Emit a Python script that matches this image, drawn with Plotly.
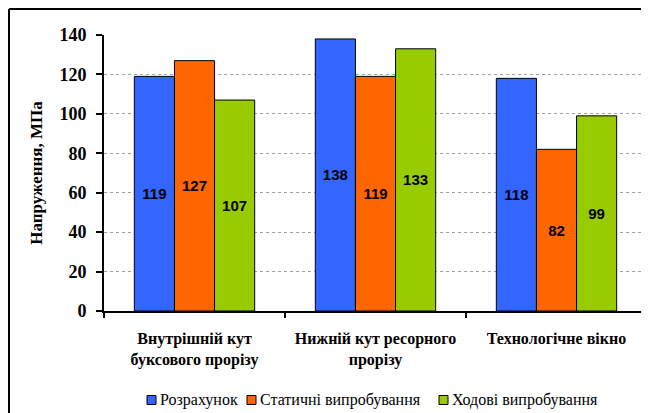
import plotly.graph_objects as go

categories = ["Внутрішній кут<br>буксового прорізу", "Нижній кут ресорного<br>прорізу", "Технологічне вікно"]
series_names = ["Розрахунок", "Статичні випробування", "Ходові випробування"]
calc = [119, 138, 118]
static = [127, 119, 82]
running = [107, 133, 99]
colors = ["#3366FF", "#FF6600", "#99CC00"]

SERIF = "Liberation Serif"
SANS = "Liberation Sans"

OFF = 8  # page body margin offset
W, H = 649 - OFF, 413 - OFF
L, T = 104 - OFF, 35 - OFF
R = W - (647 - OFF)
B = H - (311 - OFF)
pw = W - L - R
ph = H - T - B

def px_x(p):  # window pixel -> paper x
    return (p - OFF - L) / pw

def px_y(p):  # window pixel -> paper y
    return (H - B - (p - OFF)) / ph

fig = go.Figure()
for name, vals, c in zip(series_names, [calc, static, running], colors):
    fig.add_trace(go.Bar(
        x=categories, y=vals, name=name, showlegend=False,
        marker=dict(color=c, line=dict(color="black", width=1)),
        text=[str(v) for v in vals], textposition="inside", insidetextanchor="middle",
        textangle=0,
        textfont=dict(family=SANS, size=15, color="black", weight="bold"),
    ))

legend_sq_x = [147, 247, 439]
legend_y = 400
BX, BY = 9, 9
shapes = [
    dict(type="line", xref="paper", yref="paper", x0=px_x(BX), x1=px_x(BX), y0=px_y(BY), y1=px_y(430),
         line=dict(color="black", width=2)),
    dict(type="line", xref="paper", yref="paper", x0=px_x(BX), x1=px_x(660), y0=px_y(BY), y1=px_y(BY),
         line=dict(color="black", width=2)),
]
annotations = []
for sx, name, c in zip(legend_sq_x, series_names, colors):
    shapes.append(dict(type="rect", xref="paper", yref="paper",
                       x0=px_x(sx), x1=px_x(sx + 9), y0=px_y(legend_y - 4.5), y1=px_y(legend_y + 4.5),
                       fillcolor=c, line=dict(color="black", width=1)))
    annotations.append(dict(xref="paper", yref="paper", x=px_x(sx + 11), y=px_y(legend_y),
                            xanchor="left", yanchor="middle", showarrow=False, text=name,
                            font=dict(family=SERIF, size=16, color="black")))

fig.update_layout(
    width=W, height=H,
    margin=dict(l=L, r=R, t=T, b=B, autoexpand=False),
    paper_bgcolor="white", plot_bgcolor="white",
    barmode="group", bargap=0.335, bargroupgap=0,
    font=dict(family=SERIF, color="black"),
    showlegend=False,
    xaxis=dict(
        automargin=False,
        showline=True, linecolor="black", linewidth=2,
        ticks="outside", tickson="boundaries", ticklen=5, tickwidth=2, tickcolor="black",
        ticklabelstandoff=12,
        tickfont=dict(family=SERIF, size=16, color="black", weight="bold"),
        showgrid=False, range=[-0.5, 2.5],
    ),
    yaxis=dict(
        automargin=False,
        range=[0, 140], dtick=20, showline=True, linecolor="black", linewidth=2,
        ticks="outside", ticklen=6, tickwidth=2, tickcolor="black",
        ticklabelstandoff=6,
        tickfont=dict(family=SERIF, size=18, color="black", weight="bold"),
        showgrid=True, gridcolor="#A0A0A0", griddash="dot", gridwidth=1, zeroline=False,
        title=dict(text="Напруження, МПа", standoff=12,
                   font=dict(family=SERIF, size=17, color="black", weight="bold")),
    ),
    shapes=shapes,
    annotations=annotations,
)

fig.write_html("out.html")
